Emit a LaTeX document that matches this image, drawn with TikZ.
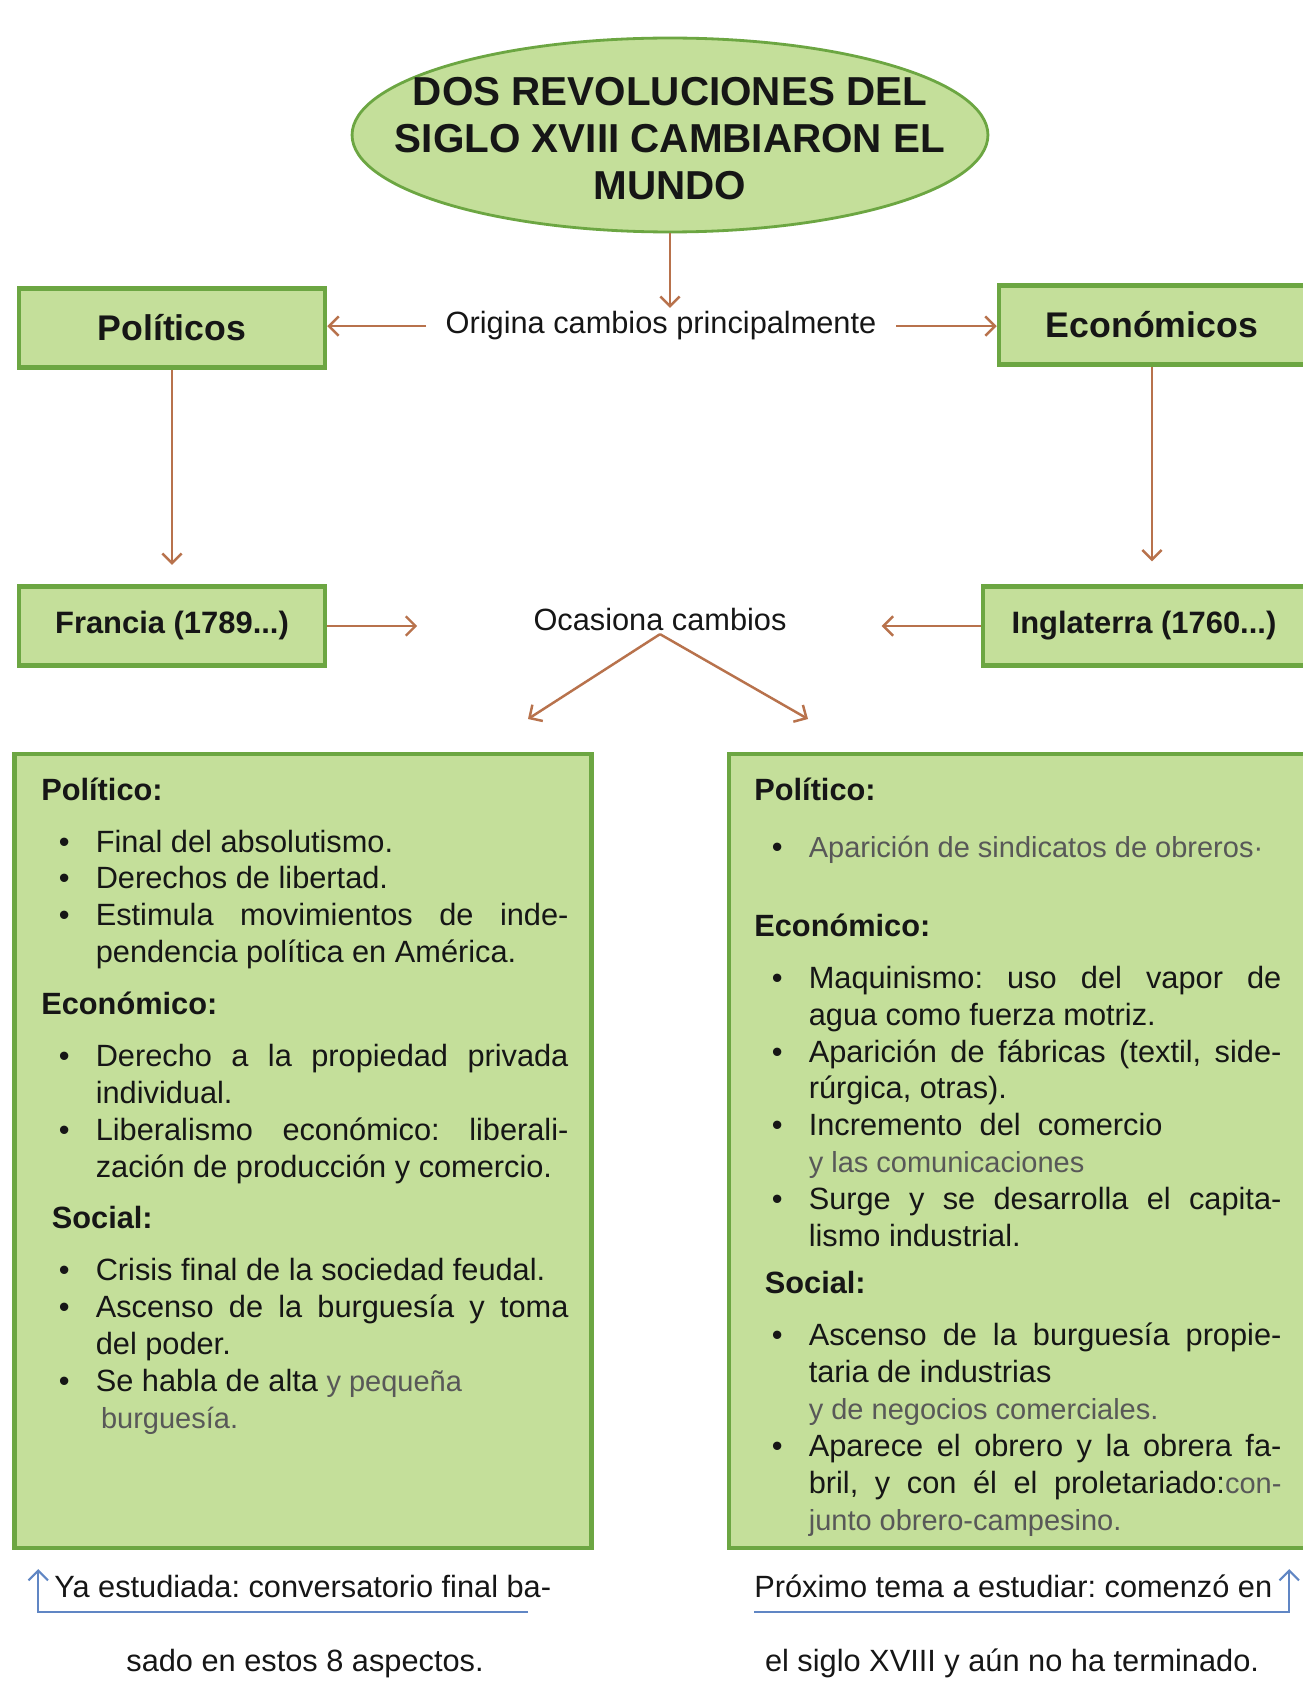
\documentclass[tikz,border=0pt]{standalone}
\usepackage{fontspec}
\setmainfont{Liberation Sans}
\usetikzlibrary{arrows.meta,positioning,calc,shapes.geometric}

\definecolor{boxfill}{RGB}{196,223,154}
\definecolor{boxline}{RGB}{108,166,66}
\definecolor{linkbrown}{RGB}{184,114,76}
\definecolor{noteblue}{RGB}{96,134,196}
\definecolor{ink}{RGB}{22,22,22}
\definecolor{softink}{RGB}{88,88,88}

\frenchspacing
\newcommand{\bodyfont}{\fontsize{17.5}{21}\selectfont}
\newcommand{\soft}[1]{{\fontsize{16.5}{21}\selectfont\color{softink}#1}}
\newcommand{\hd}[1]{\par\noindent\strut\textbf{#1}\par\vspace{8.5pt}}
\newcommand{\itm}{\par\hangindent=31pt\hangafter=1\noindent\hbox to 31pt{\hskip10pt\textbullet\hss}}
\newcommand{\gap}{\par\vspace{8.5pt}}

\begin{document}
\begin{tikzpicture}[x=0.02cm,y=-0.02cm,>={Straight Barb[length=5.5pt,width=11pt]},
 box/.style={draw=boxline,line width=2.6pt,fill=boxfill,inner sep=0pt,text=ink,minimum height=1.58cm},
 lbl/.style={inner sep=2pt,text=ink,font=\bodyfont},
 link/.style={->,draw=linkbrown,line width=1.4pt},
 note/.style={->,draw=noteblue,line width=1.2pt},
 blk/.style={anchor=north west,inner sep=0pt,text width=300pt,align=justify,font=\bodyfont,text=ink}]
\useasboundingbox[fill=white] (0,0) rectangle (1302,1689);

% title and first level
\node[ellipse,draw=boxline,line width=1.6pt,fill=boxfill,minimum width=12.72cm,minimum height=3.88cm] (ell) at (670,135) {};
\node[align=center,text=ink,font=\fontsize{23}{26.7}\selectfont\bfseries] (ttl) at (670,139) {DOS REVOLUCIONES DEL\\SIGLO XVIII CAMBIARON EL\\MUNDO};
\node[lbl,anchor=base] (orig) at (661,334) {Origina cambios principalmente};
\node[box,minimum width=6.12cm,font=\fontsize{20.3}{24}\selectfont\bfseries] (pol) at (172,328) {Políticos};
\node[box,minimum width=6.12cm,font=\fontsize{20.3}{24}\selectfont\bfseries] (eco) at (1152,325) {Económicos};

% countries
\node[box,minimum width=6.12cm,font=\fontsize{17.6}{21}\selectfont\bfseries] (fra) at (172,626) {Francia (1789...)};
\node[box,minimum width=6.44cm,font=\fontsize{17.6}{21}\selectfont\bfseries] (ing) at (1144,626) {Inglaterra (1760...)};
\node[lbl,anchor=base] (oca) at (660,630) {Ocasiona cambios};
\coordinate (vl) at (528,719);
\coordinate (vr) at (808,719);

% big boxes
\node[box,minimum width=11.54cm,minimum height=15.88cm] (lbig) at (303,1151) {};
\node[box,minimum width=11.52cm,minimum height=15.88cm] (rbig) at (1017,1151) {};

\node[blk] (ltxt) at (41,763) {\hd{Político:}
\itm Final del absolutismo.
\itm Derechos de libertad.
\itm Estimula movimientos de inde-\linebreak pendencia política en América.
\gap\hd{Económico:}
\itm Derecho a la propiedad privada\linebreak individual.
\itm Liberalismo económico: liberali-\linebreak zación de producción y comercio.
\gap\hd{\hspace*{6pt}Social:}
\itm Crisis final de la sociedad feudal.
\itm Ascenso de la burguesía y toma\linebreak del poder.
\itm Se habla de alta \soft{y pequeña}\newline\soft{\hspace*{3pt}burguesía.}\par};

\node[blk] (rtxt) at (754,763) {\hd{Político:}\vspace{3pt}
\itm \soft{Aparición de sindicatos de obreros·}
\par\vspace{24pt}\hd{Económico:}
\itm Maquinismo: uso del vapor de\linebreak agua como fuerza motriz.
\itm Aparición de fábricas (textil, side-\linebreak rúrgica, otras).
\itm Incremento\ \ del\ \ comercio\newline\soft{y las comunicaciones}
\itm Surge y se desarrolla el capita-\linebreak lismo industrial.
\par\vspace{6pt}\hd{\hspace*{6pt}Social:}
\itm Ascenso de la burguesía propie-\linebreak taria\ de\ industrias\newline\soft{y de negocios comerciales.}
\itm Aparece el obrero y la obrera fa-\linebreak bril, y con él el proletariado:\soft{con-}\linebreak\soft{junto obrero-campesino.}\par};

% notes under the boxes
\node[lbl,anchor=base west,inner sep=0pt] (ya) at (54,1597) {Ya estudiada: conversatorio final ba-};
\node[lbl,anchor=base,inner sep=0pt] (ya2) at (305,1671) {sado en estos 8 aspectos.};
\node[lbl,anchor=base west,inner sep=0pt] (prox) at (754,1597) {Próximo tema a estudiar: comenzó en};
\node[lbl,anchor=base,inner sep=0pt] (prox2) at (1012,1671) {el siglo XVIII y aún no ha terminado.};
\coordinate (yaend) at (528,1612);
\coordinate (proxend) at (754,1612);

% connectors
\draw[link] (ell.south) -- (ell.south |- orig.north);
\draw[link,shorten <=9pt] (orig.west) -- (orig.west -| pol.east);
\draw[link,shorten <=9pt] (orig.east) -- (orig.east -| eco.west);
\draw[link,shorten >=11pt] (pol.south) -- (fra.north);
\draw[link,shorten >=13pt] (eco.south) -- (eco.south |- ing.north);
\draw[link,shorten >=64pt] (fra.east) -- (fra.east -| oca.west);
\draw[link,shorten >=52pt] (ing.west) -- (ing.west -| oca.east);
\draw[link] (oca.south) -- (vl);
\draw[link] (oca.south) -- (vr);
\draw[note] (yaend) -| ($(lbig.south west)+(26,19)$);
\draw[note] (proxend) -| ($(rbig.south east)+(-18,19)$);
\end{tikzpicture}
\end{document}
